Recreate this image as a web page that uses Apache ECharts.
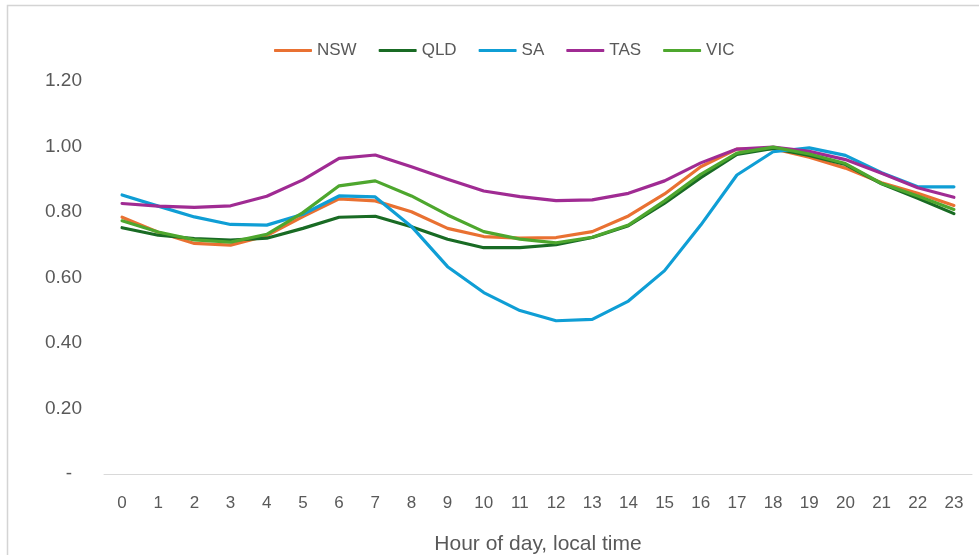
<!DOCTYPE html>
<html>
<head>
<meta charset="utf-8">
<script src="https://cdn.jsdelivr.net/npm/echarts@6/dist/echarts.min.js"></script>
<style>
  html, body { margin: 0; padding: 0; background: #ffffff; }
  #chart { width: 979px; height: 555px; }
</style>
</head>
<body>
<div id="chart"></div>
<script>
// Hour of day (local time)
const hours = ['0','1','2','3','4','5','6','7','8','9','10','11','12','13','14','15','16','17','18','19','20','21','22','23'];

// Normalised hourly profile per state
const nsw = [0.784, 0.738, 0.704, 0.699, 0.728, 0.786, 0.840, 0.834, 0.801, 0.750, 0.725, 0.720, 0.722, 0.740, 0.788, 0.855, 0.938, 0.992, 0.993, 0.967, 0.934, 0.889, 0.857, 0.820];
const qld = [0.752, 0.729, 0.719, 0.714, 0.720, 0.750, 0.784, 0.787, 0.755, 0.717, 0.691, 0.691, 0.700, 0.722, 0.758, 0.827, 0.905, 0.976, 0.994, 0.973, 0.945, 0.886, 0.842, 0.795];
const sa  = [0.852, 0.818, 0.785, 0.762, 0.760, 0.793, 0.849, 0.846, 0.756, 0.633, 0.554, 0.499, 0.468, 0.472, 0.528, 0.621, 0.760, 0.913, 0.984, 0.996, 0.973, 0.920, 0.877, 0.877];
const tas = [0.826, 0.818, 0.814, 0.819, 0.848, 0.898, 0.964, 0.974, 0.938, 0.900, 0.864, 0.847, 0.835, 0.837, 0.857, 0.895, 0.950, 0.992, 0.998, 0.985, 0.960, 0.918, 0.874, 0.845];
const vic = [0.773, 0.739, 0.715, 0.708, 0.732, 0.798, 0.880, 0.895, 0.849, 0.791, 0.740, 0.717, 0.706, 0.723, 0.760, 0.834, 0.915, 0.980, 0.998, 0.977, 0.948, 0.887, 0.849, 0.808];

const seriesNames = ['NSW', 'QLD', 'SA', 'TAS', 'VIC'];
const seriesData = [nsw, qld, sa, tas, vic];
const seriesColors = ['#E97132', '#196B24', '#0F9ED5', '#A02B93', '#4EA72E'];

const textColor = '#595959';
const fontFamily = '"Liberation Sans", Arial, sans-serif';

const chart = echarts.init(document.getElementById('chart'), null, { renderer: 'canvas' });

chart.setOption({
  animation: false,
  backgroundColor: '#ffffff',
  textStyle: { fontFamily: fontFamily, color: textColor },
  graphic: [{
    type: 'rect',
    shape: { x: 7.5, y: 5.5, width: 1000, height: 600 },
    style: { fill: 'none', stroke: '#d4d4d4', lineWidth: 1.5 },
    silent: true,
    z: -1
  }],
  legend: {
    left: 269,
    top: 37,
    icon: 'roundRect',
    itemWidth: 38,
    itemHeight: 3,
    itemGap: 22,
    textStyle: { color: textColor, fontSize: 17, fontFamily: fontFamily },
    data: seriesNames
  },
  grid: { left: 104, right: 7, top: 81, bottom: 81, containLabel: false, outerBoundsMode: 'none' },
  xAxis: {
    type: 'category',
    data: hours,
    boundaryGap: true,
    name: 'Hour of day, local time',
    nameLocation: 'middle',
    nameGap: 60,
    nameTextStyle: { color: textColor, fontSize: 21, fontFamily: fontFamily },
    axisLine: { show: true, lineStyle: { color: '#d9d9d9', width: 1 } },
    axisTick: { show: false },
    axisLabel: { color: textColor, fontSize: 17, margin: 21, fontFamily: fontFamily, interval: 0 },
    splitLine: { show: false }
  },
  yAxis: {
    type: 'value',
    min: 0,
    max: 1.2,
    interval: 0.2,
    axisLine: { show: false },
    axisTick: { show: false },
    splitLine: { show: false },
    axisLabel: {
      color: textColor,
      fontSize: 19,
      margin: 22,
      fontFamily: fontFamily,
      formatter: function (v) {
        return Math.abs(v) < 1e-9 ? '{z|-}' : v.toFixed(2);
      },
      rich: {
        z: { color: textColor, fontSize: 19, fontFamily: fontFamily, padding: [0, 10, 0, 0] }
      }
    }
  },
  series: seriesNames.map(function (name, i) {
    return {
      name: name,
      type: 'line',
      data: seriesData[i],
      symbol: 'none',
      smooth: false,
      lineStyle: { color: seriesColors[i], width: 3.2, join: 'round', cap: 'round' },
      itemStyle: { color: seriesColors[i] }
    };
  })
});
</script>
</body>
</html>
